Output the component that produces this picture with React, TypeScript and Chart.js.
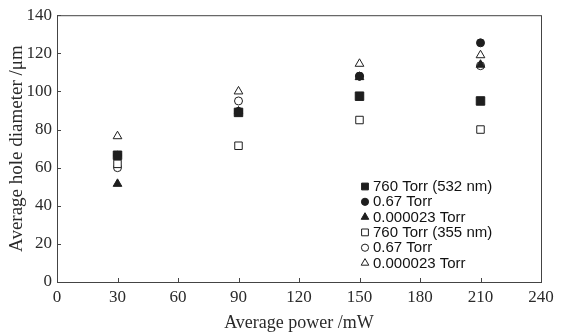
import React, { useEffect, useRef } from "react";
import { Chart, registerables } from "chart.js";

Chart.register(...registerables);

const powers = [30, 90, 150, 210];
const seriesLabels = [
  "760 Torr (532 nm)",
  "0.67 Torr",
  "0.000023 Torr",
  "760 Torr (355 nm)",
  "0.67 Torr",
  "0.000023 Torr",
];
const filledSquare = [66.5, 89, 97.5, 95];
const filledCircle = [66.5, 89.5, 108, 125.5];
const filledTriangle = [51.5, 89.5, 107.5, 114];
const openSquare = [62, 71.5, 85, 80];
const openCircle = [60, 95, 108, 113.5];
const openTriangle = [76.5, 100, 114.5, 119];
const xTicks = [0, 30, 60, 90, 120, 150, 180, 210, 240];
const yTicks = [0, 20, 40, 60, 80, 100, 120, 140];

const INK = "#1e1e1e";
const SERIF = "'Liberation Serif', 'DejaVu Serif', serif";
const SANS = "'Liberation Sans', Arial, sans-serif";

const styles = [
  { pointStyle: "rect", radius: 6, fill: INK },
  { pointStyle: "circle", radius: 4, fill: INK },
  { pointStyle: "triangle", radius: 5, fill: INK },
  { pointStyle: "rect", radius: 5.3, fill: "#ffffff" },
  { pointStyle: "circle", radius: 4, fill: "#ffffff" },
  { pointStyle: "triangle", radius: 5, fill: "#ffffff" },
];

const allSeries = [filledSquare, filledCircle, filledTriangle, openSquare, openCircle, openTriangle];

function drawMarker(ctx: CanvasRenderingContext2D, style: string, r: number, x: number, y: number) {
  ctx.beginPath();
  if (style === "rect") {
    const s = r * Math.SQRT1_2;
    ctx.rect(x - s, y - s, 2 * s, 2 * s);
  } else if (style === "circle") {
    ctx.arc(x, y, r, 0, Math.PI * 2);
  } else {
    const h = r * 1.5;
    ctx.moveTo(x, y - r);
    ctx.lineTo(x + h / Math.sqrt(3), y + r / 2);
    ctx.lineTo(x - h / Math.sqrt(3), y + r / 2);
    ctx.closePath();
  }
  ctx.fill();
  ctx.stroke();
}

const framePlugin = {
  id: "frame",
  afterDatasetsDraw(chart: any) {
    const { ctx, chartArea } = chart;
    const xs = chart.scales.x;
    const ys = chart.scales.y;
    ctx.save();
    ctx.strokeStyle = "#444";
    ctx.lineWidth = 1;
    ctx.strokeRect(chartArea.left + 0.5, chartArea.top + 0.5, chartArea.right - chartArea.left, chartArea.bottom - chartArea.top);
    ctx.beginPath();
    xTicks.forEach((v) => {
      const px = Math.round(xs.getPixelForValue(v)) + 0.5;
      ctx.moveTo(px, chartArea.bottom);
      ctx.lineTo(px, chartArea.bottom - 4);
    });
    yTicks.forEach((v) => {
      const py = Math.round(ys.getPixelForValue(v)) + 0.5;
      ctx.moveTo(chartArea.left, py);
      ctx.lineTo(chartArea.left + 4, py);
    });
    ctx.stroke();

    // legend inside plot
    const x0 = 365;
    const y0 = 186.5;
    const step = 15.3;
    ctx.font = `15px ${SANS}`;
    ctx.textBaseline = "middle";
    ctx.textAlign = "left";
    chart.data.datasets.forEach((ds: any, i: number) => {
      const y = y0 + i * step;
      ctx.fillStyle = ds.pointBackgroundColor;
      ctx.strokeStyle = INK;
      ctx.lineWidth = 1;
      const r = ds.pointStyle === "rect" ? 4.8 : ds.pointStyle === "circle" ? 3.6 : 4.4;
      drawMarker(ctx, ds.pointStyle, r, x0, y);
      ctx.fillStyle = "#111";
      ctx.fillText(ds.label, x0 + 8, y + 0.5);
    });
    ctx.restore();
  },
};

export default function App() {
  const ref = useRef<HTMLCanvasElement>(null);
  useEffect(() => {
    document.body.style.margin = "0";
    const datasets = allSeries.map((vals, i) => ({
      label: seriesLabels[i],
      data: powers.map((p, j) => ({ x: p, y: vals[j] })),
      showLine: false,
      pointStyle: styles[i].pointStyle,
      pointRadius: styles[i].radius,
      pointHoverRadius: styles[i].radius,
      pointBackgroundColor: styles[i].fill,
      pointBorderColor: INK,
      pointBorderWidth: 1,
    }));
    const chart = new Chart(ref.current!, {
      type: "scatter",
      data: { datasets },
      plugins: [framePlugin],
      options: {
        animation: false,
        responsive: false,
        layout: { padding: { top: 11, right: 21, left: 0, bottom: 0 } },
        plugins: { legend: { display: false }, tooltip: { enabled: false } },
        scales: {
          x: {
            type: "linear",
            min: 0,
            max: 240,
            afterBuildTicks: (s: any) => {
              s.ticks = xTicks.map((v) => ({ value: v }));
            },
            afterFit: (s: any) => {
              s.height = 53;
            },
            grid: { display: false, drawTicks: false, tickLength: 0 },
            border: { display: false },
            ticks: { color: "#2a2a2a", font: { family: SERIF, size: 17 }, padding: 5, maxRotation: 0 },
            title: {
              display: true,
              text: "Average power /mW",
              color: "#2a2a2a",
              font: { family: SERIF, size: 18 },
              padding: { top: 0, bottom: 1 },
            },
          },
          y: {
            type: "linear",
            min: 0,
            max: 140,
            afterBuildTicks: (s: any) => {
              s.ticks = yTicks.map((v) => ({ value: v }));
            },
            afterFit: (s: any) => {
              s.width = 57;
            },
            grid: { display: false, drawTicks: false, tickLength: 0 },
            border: { display: false },
            ticks: { color: "#2a2a2a", font: { family: SERIF, size: 17 }, padding: 5 },
            title: {
              display: true,
              text: "Average hole diameter /μm",
              color: "#2a2a2a",
              font: { family: SERIF, size: 19 },
              padding: { top: 6, bottom: 0 },
            },
          },
        },
      },
    } as any);
    return () => chart.destroy();
  }, []);
  return (
    <div style={{ width: 562, height: 335 }}>
      <canvas ref={ref} width={562} height={335} style={{ display: "block", width: 562, height: 335 }} />
    </div>
  );
}
